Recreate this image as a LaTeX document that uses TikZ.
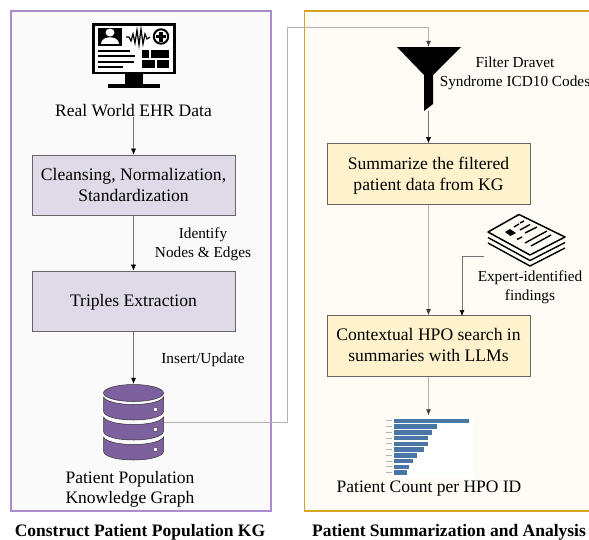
\documentclass[tikz,border=0pt]{standalone}
\usepackage{fontspec}
\setmainfont{Liberation Serif}
\usetikzlibrary{arrows.meta}
\definecolor{purp}{HTML}{7D619F}
\definecolor{purpline}{HTML}{A88CCB}
\definecolor{lilac}{HTML}{E0D9E8}
\definecolor{gold}{HTML}{D6A520}
\definecolor{cream}{HTML}{FFF2CC}
\definecolor{panelA}{HTML}{FAFAFA}
\definecolor{panelB}{HTML}{FFFCF5}
\definecolor{bar}{HTML}{4A76A5}
\tikzset{
  purplebox/.style={draw=gray!80!black,fill=lilac,line width=.7pt,minimum width=203pt,minimum height=60pt,align=center,font=\fontsize{17.6}{21}\selectfont,inner sep=0pt},
  yellowbox/.style={draw=gray!80!black,fill=cream,line width=.7pt,minimum width=203pt,minimum height=61pt,align=center,font=\fontsize{17.6}{21}\selectfont,inner sep=0pt},
  lab/.style={align=center,font=\fontsize{17.5}{20}\selectfont,inner sep=0pt},
  small/.style={align=center,font=\fontsize{15.3}{19}\selectfont,inner sep=0pt},
  head/.style={font=\bfseries\fontsize{17.5}{20}\selectfont,inner sep=0pt},
  conn/.style={draw=black!55,line width=.5pt,-{Latex[length=6pt,width=5pt,black]}},
  conn2/.style={draw=black!30,line width=.7pt,-{Latex[length=6pt,width=5pt,black!75]}}
}
\begin{document}
\begin{tikzpicture}[x=1pt,y=-1pt]
\useasboundingbox (0,0) rectangle (589,539);
\fill[white] (0,0) rectangle (589,539);
\draw[draw=purpline,line width=1.1pt,fill=panelA] (11,11) rectangle (271,511);
\fill[panelB] (305,11.5) rectangle (589,510.5);
\draw[gold,line width=1.2pt] (589,11) -- (304.5,11) -- (304.5,511) -- (589,511);

% nodes
\node[lab] (ehr) at (133.5,110.5) {Real World EHR Data};
\node[purplebox] (clean) at (133.5,185) {Cleansing, Normalization,\\Standardization};
\node[purplebox] (triple) at (133.5,301) {\raisebox{-1pt}[\height][\depth]{Triples Extraction}};
\node[small] (ident) at (203,244) {Identify\\Nodes \& Edges};
\node[small] (ins) at (203,359.5) {Insert/Update};
\node[lab] (kgl) at (130,489.5) {Patient Population\\Knowledge Graph};
\node[inner sep=0pt,minimum width=61pt,minimum height=76pt] (db) at (133.5,422) {};
\node[inner sep=0pt,minimum width=64pt,minimum height=64pt] (fun) at (428.5,79) {};
\node[small] (flt) at (515,73) {Filter Dravet\\Syndrome ICD10 Codes};
\node[yellowbox] (sum) at (428.5,174) {\raisebox{-2pt}[\height][\depth]{\begin{tabular}{@{}c@{}}Summarize the filtered\\patient data from KG\end{tabular}}};
\node[yellowbox] (hpo) at (428.5,346) {\raisebox{-1pt}[\height][\depth]{\begin{tabular}{@{}c@{}}Contextual HPO search in\\summaries with LLMs\end{tabular}}};
\node[small] (exp) at (530,287) {Expert-identified\\findings};
\node[inner sep=0pt,minimum width=80pt,minimum height=60pt] (doc) at (527,241) {};
\node[inner sep=0pt,minimum width=88pt,minimum height=61pt] (chart) at (428.5,446) {};
\node[lab] (cnt) at (429,489) {Patient Count per HPO ID};
\node[head] (h1) at (140,532) {Construct Patient Population KG};
\node[head] (h2) at (449,532) {Patient Summarization and Analysis};
\node[inner sep=0pt,minimum width=84pt,minimum height=65pt] (mon) at (134,56) {};

% monitor icon
\begin{scope}[shift={(60,10)}]
\draw[black,line width=2.6pt,fill=white] (33.3,14.3) rectangle (114.7,63);
\fill (65,64) rectangle (83,74);
\fill (47.5,74) rectangle (99.5,78);
\fill (38,17.5) rectangle (62,36);
\fill[white] (50,22.5) ellipse (4.5 and 4) ;
\fill[white] (41,33.5) .. controls (41,25) and (59,25) .. (59,33.5) -- cycle;
\draw[line width=1.2pt,line join=miter] (66,27) -- (69,27) -- (71,31) -- (73,24) -- (75,33) -- (77,20) -- (79,35) -- (81,19) -- (83,34) -- (85,24) -- (87,29) -- (90,27);
\draw[line width=2pt,fill=white] (101,26.5) circle (7.2);
\fill (96,24.8) rectangle (106,28.2);
\fill (99.3,21.5) rectangle (102.7,31.5);
\fill (38,40) rectangle (70,42.2);
\fill (38,45) rectangle (75,47.2);
\fill (38,51) rectangle (74,53.2);
\fill (38,56) rectangle (63,58.2);
\fill (81.5,39.5) rectangle (89,48);
\fill (91,39.5) rectangle (108.5,48);
\fill (81.5,50) rectangle (95,58);
\fill (97,50) rectangle (108.5,58);
\end{scope}

% database
\begin{scope}[shift={(133.5,0)}]
\path[fill=purp,draw=black!80,line width=.5pt] (-30,437) .. controls (-25,447) and (25,447) .. (30,437) -- (30,451) .. controls (30,463) and (-30,463) .. (-30,451) -- cycle;
\path[fill=purp,draw=black!80,line width=.5pt] (-30,417) .. controls (-25,427) and (25,427) .. (30,417) -- (30,431) .. controls (30,443) and (-30,443) .. (-30,431) -- cycle;
\path[fill=purp,draw=black!80,line width=.5pt] (-30,397) .. controls (-25,407) and (25,407) .. (30,397) -- (30,411) .. controls (30,423) and (-30,423) .. (-30,411) -- cycle;
\path[fill=purp,draw=black!80,line width=.5pt] (0,393) ellipse (30 and 8.5);
\fill[white,draw=black!80,line width=.4pt] (22,409.5) circle (2.2);
\fill[white,draw=black!80,line width=.4pt] (22,429.5) circle (2.2);
\fill[white,draw=black!80,line width=.4pt] (22,449.5) circle (2.2);
\end{scope}

% funnel
\fill (397,47) -- (461,47) -- (433,75) -- (433,104) -- (424,111) -- (424,75) -- cycle;

% documents
\begin{scope}[shift={(450,200)}]
\foreach \dy in {11,5.5}
 \draw[line width=1.4pt,line join=round] (38,32+\dy) -- (80,55+\dy) -- (115,37+\dy);
\draw[line width=1.5pt,fill=panelB,line join=round] (38,32) -- (69,14.5) -- (115,37) -- (80,55) -- cycle;
\fill (55,32) -- (60,29) -- (66,33) -- (60.5,36) -- cycle;
\draw[line width=1.4pt] (64,27) -- (69,24) (70,30) -- (80,24.5) (70,23) -- (74,21) (75,33) -- (87,27)
  (67,39.5) -- (72,37) (75,43) -- (97,31) (81,46) -- (101,35);
\end{scope}

% bar chart
\begin{scope}[shift={(370,400)}]
\fill[white] (23,17.5) rectangle (103,78);
\fill[bar] (24,18.5) rectangle (99,23);
\foreach \i/\w in {1/43,2/38,3/34,4/34,5/30,6/23,7/19,8/15,9/13}
  \fill[bar] (24,18.5+\i*5.75) rectangle ({24+\w},23+\i*5.75);
\foreach \i in {0,...,9}
  \draw[black!30,line width=.3pt] (16,20.5+\i*5.75) -- (22,20.5+\i*5.75);
\end{scope}

% connectors
\draw[conn] (ehr) -- (clean);
\draw[conn] (clean) -- (triple);
\draw[conn] (triple) -- (db);
\draw[conn2] (db.east) -- (287.5,422) -- (287.5,27.5) -- (428.5,27.5) -- (fun.north);
\draw[conn] (fun.south) -- (sum);
\draw[conn2] (sum) -- (hpo);
\coordinate (docl) at (484,256);
\draw[conn] (docl) -- (462,256) -- (462,316);
\draw[conn2] (hpo) -- (chart.north);
\end{tikzpicture}
\end{document}
